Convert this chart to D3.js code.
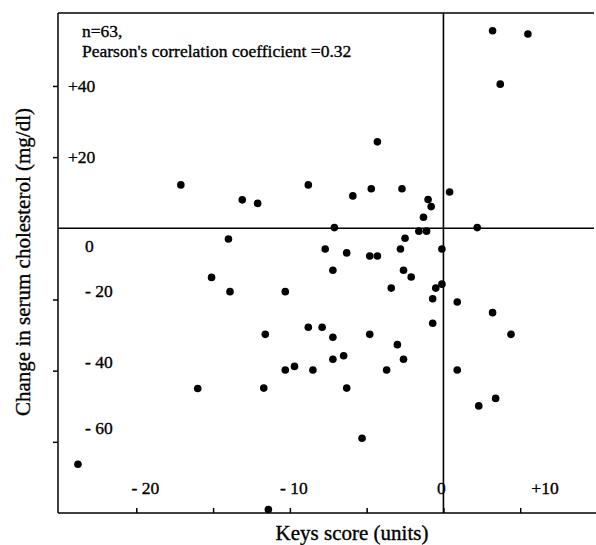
<!DOCTYPE html>
<html>
<head>
<meta charset="utf-8">
<title>Keys score vs change in serum cholesterol</title>
<script src="https://d3js.org/d3.v7.min.js"></script>
<style>
  body { margin: 0; background: #fff; }
  text { font-family: "Liberation Serif", "Times New Roman", serif; fill: #000; stroke: #000; stroke-width: 0.35px; }
</style>
</head>
<body>
<div id="chart"></div>
<script>
// Keys score (units) for each subject
var keysScore = [
  3.2, 5.5, 3.7, -4.3, -17.1, -8.8, -13.1, -12.1, -5.9, -4.7,
  -2.7, 0.4, -1.0, -0.8, -1.3, -7.1, -1.6, -1.1, 2.2, -14.0,
  -2.5, -7.7, -6.3, -4.8, -4.3, -2.8, -0.1, -15.1, -7.2, -2.6,
  -2.1, -13.9, -10.3, -3.4, -0.5, -0.1, -0.7, 0.9, 3.2, -0.7,
  -11.6, -8.8, -7.9, -7.2, -4.8, 4.4, -3.0, -2.6, -10.3, -9.7,
  -8.5, -7.2, -6.5, -3.7, 0.9, -16.0, -11.7, -6.3, -5.3, 2.3,
  3.4, -23.8, -11.4
];
// change in serum cholesterol (mg/dl), same order
var cholChange = [
  55.5, 54.6, 40.5, 24.3, 12.2, 12.2, 8.0, 7.0, 9.1, 11.1,
  11.1, 10.2, 8.1, 6.1, 3.1, 0.2, -0.8, -0.8, 0.2, -3.0,
  -2.8, -5.8, -6.9, -7.8, -7.8, -5.8, -5.8, -13.8, -11.8, -11.8,
  -13.7, -17.8, -17.8, -16.8, -16.8, -15.7, -19.8, -20.7, -23.7, -26.7,
  -29.8, -27.8, -27.8, -30.6, -29.8, -29.8, -32.7, -36.8, -39.8, -38.8,
  -39.8, -36.8, -35.8, -39.8, -39.8, -45.0, -44.9, -44.9, -59.0, -49.9,
  -47.8, -66.3, -79.0
];

var xTicks = [-20, -15, -10, -5, 0, 5];
var xLabelValues = [-20, -10, 0, 10];
var xLabelTexts = ["- 20", "- 10", "0", "+10"];
var yTicks = [40, 20, -20, -40, -60];
var yLabelValues = [40, 20, 0, -20, -40, -60];
var yLabelTexts = ["+40", "+20", "0", "- 20", "- 40", "- 60"];

var points = keysScore.map(function (k, i) { return { x: k, y: cholChange[i] }; });

var width = 596, height = 545;
var svg = d3.select("#chart").append("svg")
  .attr("width", width).attr("height", height);

var x = d3.scaleLinear().domain([-25.1, 10]).range([58, 597]);
var y = d3.scaleLinear().domain([-80, 60.5]).range([513, 13]);
var right = 594;

// frame: top border
svg.append("line")
  .attr("x1", x.range()[0]).attr("x2", right)
  .attr("y1", y.range()[1]).attr("y2", y.range()[1])
  .attr("stroke", "#000").attr("stroke-width", 1.3);

// left axis, ticks outward
var yAxis = svg.append("g")
  .attr("transform", "translate(" + x.range()[0] + ",0)")
  .call(d3.axisLeft(y).tickValues(yTicks).tickSize(5).tickFormat(""));
yAxis.select(".domain").attr("d", "M0," + y.range()[0] + "V" + y.range()[1]);

// bottom axis, ticks inward
var xAxis = svg.append("g")
  .attr("transform", "translate(0," + y.range()[0] + ")")
  .call(d3.axisBottom(x).tickValues(xTicks).tickSizeInner(-5).tickSizeOuter(0).tickFormat(""));
xAxis.select(".domain").attr("d", "M" + x.range()[0] + ",0H" + width);

svg.selectAll(".domain, .tick line").attr("stroke", "#000").attr("stroke-width", 1.5);

// zero lines
svg.append("line")
  .attr("x1", x.range()[0]).attr("x2", right)
  .attr("y1", y(0)).attr("y2", y(0))
  .attr("stroke", "#000").attr("stroke-width", 1.6);
svg.append("line")
  .attr("x1", x(0)).attr("x2", x(0))
  .attr("y1", y.range()[1]).attr("y2", y.range()[0])
  .attr("stroke", "#000").attr("stroke-width", 1.6);

// y tick labels (printed a little off the ticks, as in the original)
svg.selectAll(".ylab").data(yLabelValues).enter().append("text")
  .attr("class", "ylab")
  .attr("x", function (d) { return d > 0 ? 68 : 85; })
  .attr("y", function (d) { return y(d) + (d > 0 ? 0 : d === 0 ? 18 : (d === -60 ? -14 : -9)); })
  .attr("dy", "0.35em")
  .attr("font-size", 17.5)
  .text(function (d, i) { return yLabelTexts[i]; });

// x tick labels
var xLabelShift = { "-20": 9, "-10": 4, "0": -2, "10": -52 };
svg.selectAll(".xlab").data(xLabelValues).enter().append("text")
  .attr("class", "xlab")
  .attr("x", function (d) { return x(d) + xLabelShift[d]; })
  .attr("y", 494)
  .attr("text-anchor", "middle")
  .attr("font-size", 17.5)
  .text(function (d, i) { return xLabelTexts[i]; });

// points
svg.selectAll(".dot").data(points).enter().append("circle")
  .attr("class", "dot")
  .attr("cx", function (d) { return x(d.x); })
  .attr("cy", function (d) { return y(d.y); })
  .attr("r", 3.8)
  .attr("fill", "#000");

// annotation
svg.append("text").attr("x", 82).attr("y", 37).attr("font-size", 17.5).text("n=63,");
svg.append("text").attr("x", 82).attr("y", 57).attr("font-size", 17.5)
  .text("Pearson's correlation coefficient =0.32");

// axis titles
svg.append("text")
  .attr("x", 352).attr("y", 540)
  .attr("text-anchor", "middle")
  .attr("font-size", 21)
  .text("Keys score (units)");
svg.append("text")
  .attr("transform", "translate(30,262) rotate(-90)")
  .attr("text-anchor", "middle")
  .attr("font-size", 21)
  .text("Change in serum cholesterol (mg/dl)");
</script>
</body>
</html>
